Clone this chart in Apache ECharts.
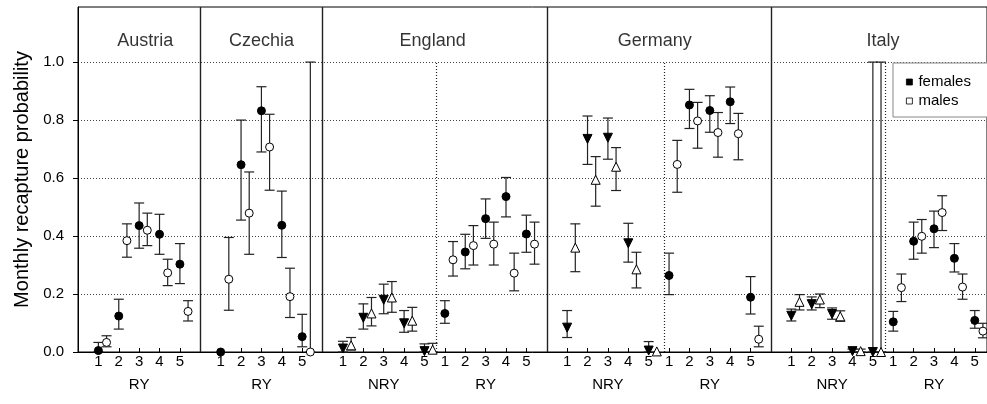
<!DOCTYPE html>
<html>
<head>
<meta charset="utf-8">
<script src="https://cdn.jsdelivr.net/npm/echarts@6/dist/echarts.min.js"></script>
<style>
  html, body { margin: 0; padding: 0; background: #fff; }
  #chart { width: 987px; height: 404px; }
</style>
</head>
<body>
<div id="chart"></div>
<script>
const countries = ["Austria", "Czechia", "England", "Germany", "Italy"];
const titleX = [3.3, 9.0, 17.4, 28.3, 39.5];
const separatorX = [6, 12, 23, 34];
const dottedX = [17.6, 28.75, 39.6];
const groupStart = [1, 7, 13, 18, 24, 29, 35, 40];
const groupName = ["RY", "RY", "NRY", "RY", "NRY", "RY", "NRY", "RY"];
const yTicks = [0, 0.2, 0.4, 0.6, 0.8, 1.0];
const maleOffset = 0.4;

// [estimate, lower, upper] for years 1..5
const austriaRyF = [[0.005, 0, 0.033], [0.124, 0.079, 0.182], [0.436, 0.358, 0.514], [0.406, 0.337, 0.475], [0.303, 0.236, 0.374]];
const austriaRyM = [[0.033, 0.018, 0.056], [0.384, 0.327, 0.442], [0.42, 0.367, 0.479], [0.273, 0.229, 0.32], [0.14, 0.107, 0.177]];
const czechiaRyF = [[0, 0, 0], [0.646, 0.455, 0.8], [0.832, 0.69, 0.915], [0.437, 0.326, 0.555], [0.053, 0.018, 0.13]];
const czechiaRyM = [[0.251, 0.144, 0.395], [0.479, 0.337, 0.621], [0.707, 0.558, 0.82], [0.191, 0.119, 0.289], [0, 0, 1.0]];
const englandNryF = [[0.012, 0, 0.037], [0.118, 0.079, 0.166], [0.18, 0.132, 0.234], [0.099, 0.068, 0.143], [0.003, 0, 0.028]];
const englandNryM = [[0.023, 0.007, 0.05], [0.133, 0.09, 0.188], [0.188, 0.137, 0.243], [0.108, 0.072, 0.154], [0.008, 0, 0.03]];
const englandRyF = [[0.133, 0.099, 0.177], [0.345, 0.287, 0.406], [0.46, 0.392, 0.528], [0.536, 0.466, 0.602], [0.407, 0.344, 0.472]];
const englandRyM = [[0.318, 0.262, 0.381], [0.367, 0.3, 0.436], [0.372, 0.3, 0.448], [0.272, 0.211, 0.341], [0.372, 0.303, 0.448]];
const germanyNryF = [[0.084, 0.05, 0.143], [0.735, 0.647, 0.814], [0.739, 0.665, 0.807], [0.375, 0.31, 0.444], [0.005, 0, 0.036]];
const germanyNryM = [[0.36, 0.277, 0.442], [0.594, 0.503, 0.674], [0.639, 0.557, 0.705], [0.285, 0.221, 0.344], [0.002, 0.002, 0.002]];
const germanyRyF = [[0.264, 0.198, 0.341], [0.852, 0.771, 0.906], [0.833, 0.758, 0.884], [0.863, 0.788, 0.914], [0.189, 0.131, 0.26]];
const germanyRyM = [[0.647, 0.551, 0.73], [0.797, 0.703, 0.861], [0.757, 0.672, 0.826], [0.753, 0.663, 0.823], [0.044, 0.018, 0.089]];
const italyNryF = [[0.125, 0.107, 0.148], [0.165, 0.145, 0.19], [0.131, 0.113, 0.152], [0.003, 0, 0.01], [0, 0, 1.0]];
const italyNryM = [[0.173, 0.145, 0.198], [0.181, 0.153, 0.2], [0.123, 0.106, 0.142], [0.003, 0, 0.01], [0, 0, 1.0]];
const italyRyF = [[0.104, 0.072, 0.14], [0.382, 0.32, 0.448], [0.425, 0.36, 0.486], [0.323, 0.276, 0.374], [0.109, 0.082, 0.143]];
const italyRyM = [[0.222, 0.174, 0.269], [0.399, 0.341, 0.457], [0.481, 0.419, 0.539], [0.224, 0.182, 0.269], [0.072, 0.049, 0.099]];

const groups = [
  [austriaRyF, austriaRyM],
  [czechiaRyF, czechiaRyM],
  [englandNryF, englandNryM],
  [englandRyF, englandRyM],
  [germanyNryF, germanyNryM],
  [germanyRyF, germanyRyM],
  [italyNryF, italyNryM],
  [italyRyF, italyRyM],
];

const femalePoints = [];
const malePoints = [];
const bars = [];
const tickPos = [];
const tickLabel = {};

groups.forEach(([fem, male], g) => {
  const nry = groupName[g] === "NRY";
  for (let i = 0; i < 5; i++) {
    const x = groupStart[g] + i;
    tickPos.push(x);
    tickLabel[x] = i === 2 ? `{n|${i + 1}}\n{g|${groupName[g]}}` : `{n|${i + 1}}`;

    femalePoints.push({
      value: [x, fem[i][0]],
      symbol: nry ? "triangle" : "circle",
      symbolRotate: nry ? 180 : 0,
      symbolSize: nry ? 9 : 8,
    });
    malePoints.push({
      value: [x + maleOffset, male[i][0]],
      symbol: nry ? "triangle" : "circle",
      symbolSize: nry ? 9 : 8,
    });
    bars.push([x, fem[i][1], fem[i][2]]);
    bars.push([x + maleOffset, male[i][1], male[i][2]]);
  }
});

const font = "'Liberation Sans', Arial, sans-serif";
const chart = echarts.init(document.getElementById("chart"));

chart.setOption({
  animation: false,
  backgroundColor: "#fff",
  textStyle: { fontFamily: font, color: "#000" },
  grid: {
    left: 78,
    right: 0,
    top: 7,
    bottom: 52,
    show: true,
    borderColor: "#000",
    borderWidth: 1,
    outerBoundsMode: "none",
  },
  legend: {
    left: 893,
    top: 63,
    orient: "vertical",
    backgroundColor: "#fff",
    borderColor: "#888",
    borderWidth: 1,
    borderRadius: 0,
    padding: [11, 40, 8, 13],
    itemGap: 3,
    itemWidth: 6,
    itemHeight: 6,
    selectedMode: false,
    textStyle: { fontSize: 15, fontFamily: font, color: "#000", padding: [0, 0, 0, 1], lineHeight: 16 },
    data: [
      { name: "females", icon: "rect", itemStyle: { color: "#000", borderColor: "#000", borderWidth: 0.8 } },
      { name: "males", icon: "rect", itemStyle: { color: "#fff", borderColor: "#000", borderWidth: 0.8 } },
    ],
  },
  xAxis: {
    type: "value",
    min: 0,
    max: 44.6,
    interval: 1,
    axisLine: { lineStyle: { color: "#000", width: 1 } },
    axisTick: { inside: true, length: 4, customValues: tickPos, lineStyle: { color: "#000" } },
    axisLabel: {
      customValues: tickPos,
      margin: 2,
      formatter: (v) => tickLabel[Math.round(v)] || "",
      rich: {
        n: { fontSize: 15, lineHeight: 16, fontFamily: font, color: "#000" },
        g: { fontSize: 15, lineHeight: 29, fontFamily: font, color: "#000" },
      },
    },
    splitLine: { show: false },
  },
  yAxis: {
    type: "value",
    min: 0,
    max: 1.19,
    interval: 0.2,
    name: "Monthly recapture probability",
    nameLocation: "middle",
    nameGap: 45,
    nameTextStyle: { fontSize: 20, fontFamily: font, color: "#000" },
    axisLine: { show: true, lineStyle: { color: "#000", width: 1 } },
    axisTick: { show: true, length: 5, customValues: yTicks, lineStyle: { color: "#000" } },
    axisLabel: {
      customValues: yTicks,
      margin: 14,
      fontSize: 15,
      color: "#000",
      formatter: (v) => v.toFixed(1),
    },
    splitLine: { show: true, lineStyle: { color: "#444", type: [1, 2], width: 1 } },
  },
  series: [
    {
      name: "frame",
      type: "line",
      data: [],
      silent: true,
      markLine: {
        silent: true,
        symbol: ["none", "none"],
        label: { show: false },
        emphasis: { disabled: true },
        data: [
          ...separatorX.map((x) => ({ xAxis: x, lineStyle: { color: "#222", width: 1.4, type: "solid" } })),
          ...dottedX.map((x) => [
            { coord: [x, 0], lineStyle: { color: "#222", width: 1.2, type: [1, 2] } },
            { coord: [x, 1] },
          ]),
        ],
      },
    },
    {
      name: "titles",
      type: "scatter",
      silent: true,
      symbolSize: 0,
      data: countries.map((c, i) => ({ name: c, value: [titleX[i], 1.072] })),
      label: {
        show: true,
        position: "inside",
        formatter: "{b}",
        fontSize: 18,
        fontFamily: font,
        color: "#000",
      },
    },
    {
      name: "bars",
      type: "custom",
      silent: true,
      z: 2,
      data: bars,
      renderItem: (params, api) => {
        const x = api.value(0);
        const lo = api.value(1);
        const hi = api.value(2);
        if (hi <= lo) return null;
        const top = api.coord([x, hi]);
        const bottom = api.coord([x, lo]);
        const cap = 5;
        const style = { stroke: "#222", lineWidth: 1.2 };
        return {
          type: "group",
          children: [
            { type: "line", shape: { x1: top[0], y1: top[1], x2: bottom[0], y2: bottom[1] }, style },
            { type: "line", shape: { x1: top[0] - cap, y1: top[1], x2: top[0] + cap, y2: top[1] }, style },
            { type: "line", shape: { x1: bottom[0] - cap, y1: bottom[1], x2: bottom[0] + cap, y2: bottom[1] }, style },
          ],
        };
      },
    },
    {
      name: "females",
      type: "scatter",
      z: 3,
      data: femalePoints,
      itemStyle: { color: "#000", borderColor: "#000", borderWidth: 1, opacity: 1 },
    },
    {
      name: "males",
      type: "scatter",
      z: 4,
      data: malePoints,
      itemStyle: { color: "#fff", borderColor: "#000", borderWidth: 1, opacity: 1 },
    },
  ],
});
</script>
</body>
</html>
